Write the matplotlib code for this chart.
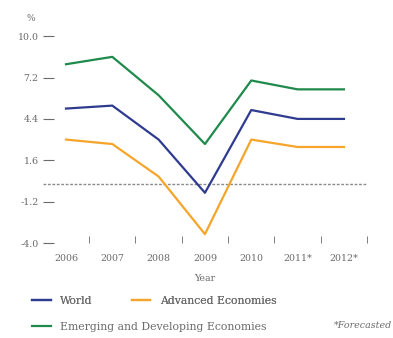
import numpy as np
import matplotlib.pyplot as plt

# real GDP growth, % per year
years = ['2006', '2007', '2008', '2009', '2010', '2011*', '2012*']
world = [5.1, 5.3, 3.0, -0.6, 5.0, 4.4, 4.4]
advanced = [3.0, 2.7, 0.5, -3.4, 3.0, 2.5, 2.5]
emerging = [8.1, 8.6, 6.0, 2.7, 7.0, 6.4, 6.4]
yticks = [-4.0, -1.2, 1.6, 4.4, 7.2, 10.0]

c_world = '#2e3b8f'
c_adv = '#f5a52a'
c_emg = '#1f8a4c'
c_text = '#6b6b6b'

plt.rcParams['font.family'] = ['DejaVu Serif']

fig = plt.figure(figsize=(3.93, 3.38), dpi=100)
ax = fig.add_axes([0.109, 0.281, 0.825, 0.612])

x = np.arange(len(years))
ax.axhline(0, color='#8a8a8a', lw=1.0, ls=(0, (2, 1.2)), zorder=1)
l_world, = ax.plot(x, world, color=c_world, lw=1.6, label='World')
l_adv, = ax.plot(x, advanced, color=c_adv, lw=1.6, label='Advanced Economies')
l_emg, = ax.plot(x, emerging, color=c_emg, lw=1.6, label='Emerging and Developing Economies')

ax.set_xlim(-0.5, len(years) - 0.5)
ax.set_ylim(-4, 10)
ax.set_yticks(yticks)
ax.set_yticklabels([f'{v:.1f}' for v in yticks])
ax.set_xticks(x)
ax.set_xticklabels(years)
ax.set_xticks(list(x[:-1] + 0.5) + [len(years) - 0.5], minor=True)

ax.tick_params(axis='y', direction='in', length=8, width=0.8, color=c_text,
               labelsize=6.8, labelcolor=c_text, pad=3)
ax.tick_params(axis='x', which='major', length=0, labelsize=6.8,
               labelcolor=c_text, pad=8)
ax.tick_params(axis='x', which='minor', direction='in', length=5, width=0.6,
               color=c_text)
for s in ax.spines.values():
    s.set_visible(False)

ax.set_xlabel('Year', fontsize=6.8, color=c_text, labelpad=8)
fig.text(0.078, 0.945, '%', fontsize=6.5, color=c_text, ha='center', va='center')

leg_kw = dict(frameon=False, loc='center left', fontsize=7.8, labelcolor=c_text,
              handlelength=1.7, handletextpad=0.9, columnspacing=3.6,
              borderaxespad=0, borderpad=0)
leg1 = fig.legend(handles=[l_world, l_adv], ncol=2,
                  bbox_to_anchor=(0.082, 1 - 301 / 338), **leg_kw)
fig.add_artist(leg1)
fig.legend(handles=[l_emg], bbox_to_anchor=(0.082, 1 - 327 / 338), **leg_kw)
fig.text(0.998, 1 - 326 / 338, '*Forecasted', fontsize=6.8, color=c_text,
         style='italic', ha='right', va='center')

fig.savefig('out.png', dpi=100)
